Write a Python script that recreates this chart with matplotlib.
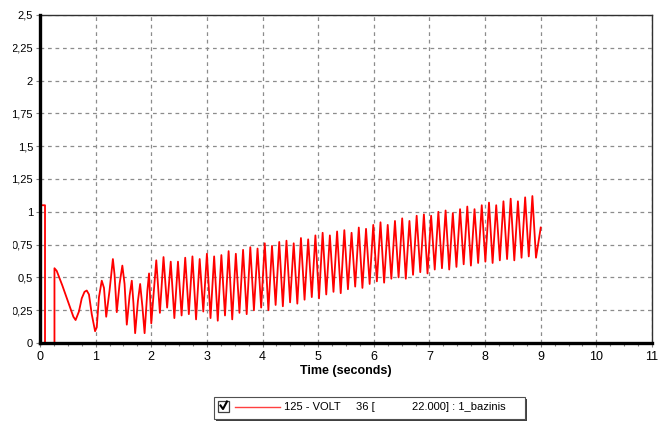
import matplotlib.pyplot as plt
import numpy as np
from matplotlib.patches import Rectangle
from matplotlib.lines import Line2D
from matplotlib.ticker import MultipleLocator, FuncFormatter
from matplotlib.transforms import Bbox

plt.rcParams['font.family'] = ['Liberation Sans', 'DejaVu Sans']

# --- start-up transient ---
t_start = [0.0, 0.09, 0.09, 0.26, 0.26, 0.30, 0.40, 0.50, 0.60, 0.64, 0.70, 0.75, 0.80, 0.84,
           0.88, 0.93, 0.99, 1.02, 1.06, 1.11, 1.15, 1.19, 1.25, 1.31, 1.34, 1.38, 1.43, 1.48,
           1.52, 1.56, 1.61, 1.65, 1.68, 1.71, 1.76, 1.80, 1.84, 1.88, 1.93, 1.96, 2.00]
v_start = [1.05, 1.05, 0.0, 0.0, 0.57, 0.55, 0.44, 0.32, 0.20, 0.175, 0.24, 0.34, 0.39, 0.40,
           0.37, 0.22, 0.09, 0.12, 0.35, 0.475, 0.42, 0.20, 0.40, 0.64, 0.52, 0.235, 0.45, 0.59,
           0.45, 0.14, 0.36, 0.475, 0.30, 0.075, 0.32, 0.45, 0.28, 0.075, 0.40, 0.53, 0.15]

# --- oscillation: peaks and troughs of each cycle ---
t_peak = [2.09, 2.22, 2.35, 2.48, 2.61, 2.74, 2.87, 3.00, 3.13, 3.26, 3.39, 3.52, 3.65, 3.78,
          3.91, 4.04, 4.17, 4.30, 4.43, 4.56, 4.69, 4.82, 4.95, 5.08, 5.21, 5.34, 5.47, 5.60,
          5.73, 5.86, 5.99, 6.12, 6.25, 6.38, 6.51, 6.64, 6.77, 6.90, 7.03, 7.16, 7.29, 7.42,
          7.55, 7.68, 7.81, 7.94, 8.07, 8.20, 8.33, 8.46, 8.59, 8.72, 8.85]
v_peak = [0.63, 0.655, 0.62, 0.62, 0.65, 0.66, 0.64, 0.68, 0.66, 0.67, 0.70, 0.68, 0.71, 0.73,
          0.72, 0.76, 0.74, 0.77, 0.78, 0.76, 0.80, 0.79, 0.82, 0.84, 0.82, 0.85, 0.86, 0.84,
          0.88, 0.87, 0.90, 0.92, 0.90, 0.93, 0.95, 0.93, 0.97, 0.98, 0.97, 1.00, 1.01, 0.99,
          1.02, 1.04, 1.02, 1.05, 1.07, 1.05, 1.08, 1.10, 1.08, 1.11, 1.12]
t_trough = [2.155, 2.285, 2.415, 2.545, 2.675, 2.805, 2.935, 3.065, 3.195, 3.325, 3.455, 3.585,
            3.715, 3.845, 3.975, 4.105, 4.235, 4.365, 4.495, 4.625, 4.755, 4.885, 5.015, 5.145,
            5.275, 5.405, 5.535, 5.665, 5.795, 5.925, 6.055, 6.185, 6.315, 6.445, 6.575, 6.705,
            6.835, 6.965, 7.095, 7.225, 7.355, 7.485, 7.615, 7.745, 7.875, 8.005, 8.135, 8.265,
            8.395, 8.525, 8.655, 8.785, 8.915]
v_trough = [0.23, 0.27, 0.19, 0.21, 0.22, 0.18, 0.24, 0.19, 0.17, 0.21, 0.18, 0.23, 0.22, 0.25,
            0.27, 0.25, 0.29, 0.28, 0.31, 0.30, 0.33, 0.35, 0.34, 0.37, 0.39, 0.38, 0.41, 0.43,
            0.42, 0.45, 0.47, 0.46, 0.49, 0.50, 0.49, 0.52, 0.54, 0.53, 0.56, 0.57, 0.56, 0.58,
            0.60, 0.59, 0.61, 0.62, 0.61, 0.63, 0.64, 0.63, 0.65, 0.66, 0.65]
t_end = [9.0]
v_end = [0.88]

t_osc = np.column_stack([t_peak, t_trough]).ravel()
v_osc = np.column_stack([v_peak, v_trough]).ravel()
t = np.concatenate([t_start, t_osc, t_end])
v = np.concatenate([v_start, v_osc, v_end])

fig = plt.figure(figsize=(6.59, 4.21), dpi=100)
ax = fig.add_axes([40 / 659, 1 - 343 / 421, 612 / 659, 328 / 421])

ax.plot(t, v, color='#ff0000', linewidth=1.3, zorder=3)

ax.set_xlim(0, 11)
ax.set_ylim(0, 2.5)
ax.xaxis.set_major_locator(MultipleLocator(1))
ax.xaxis.set_minor_locator(MultipleLocator(0.25))
ax.yaxis.set_major_locator(MultipleLocator(0.25))
ax.yaxis.set_major_formatter(FuncFormatter(lambda y, p: ('%g' % y).replace('.', ',')))
ax.tick_params(axis='both', which='major', length=3, width=0.8, color='#808080',
               labelsize=8, pad=2)
ax.tick_params(axis='x', which='major', labelsize=9, pad=3)
ax.tick_params(axis='x', which='minor', length=2, width=0.8, color='#808080')

ax.grid(True, which='major', linestyle=(0, (3, 3)), color='#8c8c8c', linewidth=0.9)

for side in ['left', 'bottom']:
    ax.spines[side].set_linewidth(2.4)
    ax.spines[side].set_color('black')
    ax.spines[side].set_zorder(4)
for side in ['top', 'right']:
    ax.spines[side].set_linewidth(1.0)
    ax.spines[side].set_color('#303030')

ax.set_xlabel('Time (seconds)', fontsize=9, fontweight='bold', labelpad=1)

# y labels are cut off at the left like in the original window
clip = Bbox.from_extents(13, 0, 659, 421)
for lab in ax.get_yticklabels():
    lab.set_clip_on(True)
    lab.set_clip_box(clip)

# legend box below the chart
def px(x, y):
    return x / 659, 1 - y / 421

x0, y0 = px(214, 419)
fig.patches.append(Rectangle((x0 + 2 / 659, y0 - 2 / 421), 311 / 659, 22 / 421,
                             transform=fig.transFigure, facecolor='#404040',
                             edgecolor='none', zorder=1))
fig.patches.append(Rectangle((x0, y0), 311 / 659, 22 / 421, transform=fig.transFigure,
                             facecolor='white', edgecolor='#505050', linewidth=0.8, zorder=2))
cx, cy = px(218, 412)
fig.patches.append(Rectangle((cx, cy), 11 / 659, 11 / 421, transform=fig.transFigure,
                             facecolor='white', edgecolor='#404040', linewidth=0.9, zorder=3))
fig.lines.append(Line2D([220.5 / 659, 223 / 659, 227 / 659],
                        [1 - 405.5 / 421, 1 - 409 / 421, 1 - 401.5 / 421],
                        transform=fig.transFigure, color='black', linewidth=1.5, zorder=4))
fig.lines.append(Line2D([235 / 659, 280 / 659], [1 - 407 / 421, 1 - 407 / 421],
                        transform=fig.transFigure, color='#ff4040', linewidth=1.0, zorder=4))
ty = 1 - 407.5 / 421
fig.text(284 / 659, ty, '125 - VOLT', fontsize=8, va='center', zorder=5)
fig.text(356 / 659, ty, '36 [', fontsize=8, va='center', zorder=5)
fig.text(412 / 659, ty, '22.000] : 1_bazinis', fontsize=8, va='center', zorder=5)

fig.savefig('out.png', dpi=100)
